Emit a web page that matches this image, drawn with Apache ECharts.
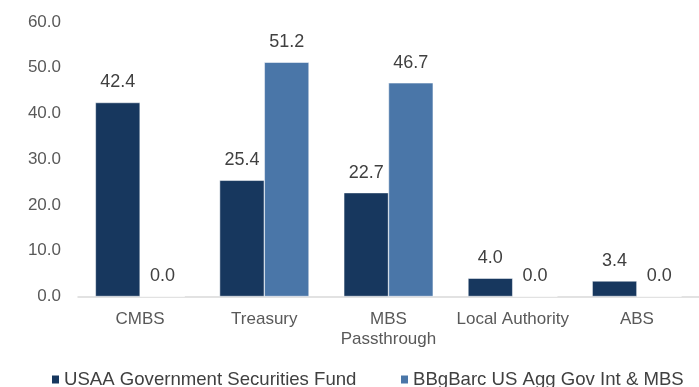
<!DOCTYPE html>
<html>
<head>
<meta charset="utf-8">
<script src="https://cdn.jsdelivr.net/npm/echarts@6/dist/echarts.min.js"></script>
<style>html,body{margin:0;padding:0;background:#fff;}#c{width:699px;height:387px;}</style>
</head>
<body>
<div id="c"></div>
<script>
const categories = ['CMBS', 'Treasury', 'MBS\nPassthrough', 'Local Authority', 'ABS'];
const fundName = 'USAA Government Securities Fund';
const benchName = 'BBgBarc US Agg Gov Int & MBS';
const fundValues = [42.4, 25.4, 22.7, 4.0, 3.4];
const benchValues = [0.0, 51.2, 46.7, 0.0, 0.0];
const yTicks = { min: 0, max: 60, interval: 10 };

const font = 'Liberation Sans, Arial, sans-serif';
const chart = echarts.init(document.getElementById('c'), null, { renderer: 'canvas' });
const labelCfg = {
  show: true, position: 'top', distance: 11,
  formatter: p => p.value.toFixed(1),
  fontFamily: font, fontSize: 18, color: '#404040'
};
const legendBase = {
  top: 370, padding: 0, itemWidth: 9, itemHeight: 10, icon: 'rect',
  textStyle: { fontFamily: font, fontSize: 18.6, color: '#404040', padding: [0, 0, 0, -1] }
};
chart.setOption({
  animation: false,
  textStyle: { fontFamily: font },
  grid: { left: 78, right: -7, top: 22, bottom: 90.5, containLabel: false },
  legend: [
    Object.assign({}, legendBase, { left: 50, data: [fundName] }),
    Object.assign({}, legendBase, { left: 399, data: [benchName] })
  ],
  xAxis: {
    type: 'category', data: categories,
    axisLine: { lineStyle: { color: '#d9d9d9', width: 1.5 } },
    axisTick: { show: false },
    axisLabel: { fontFamily: font, fontSize: 17, color: '#595959', margin: 13, lineHeight: 20, interval: 0 }
  },
  yAxis: {
    type: 'value', min: yTicks.min, max: yTicks.max, interval: yTicks.interval,
    splitLine: { show: false },
    axisLine: { show: false }, axisTick: { show: false },
    axisLabel: { fontFamily: font, fontSize: 17, color: '#595959', margin: 17, formatter: v => v.toFixed(1) }
  },
  series: [
    { name: fundName, type: 'bar', data: fundValues, barGap: '0%', barCategoryGap: '28%',
      itemStyle: { color: '#17375e', borderColor: '#ffffff', borderWidth: 0.5 }, label: labelCfg },
    { name: benchName, type: 'bar', data: benchValues, barGap: '0%', barCategoryGap: '28%',
      itemStyle: { color: '#4a76a8', borderColor: '#ffffff', borderWidth: 0.5 }, label: labelCfg }
  ]
});
</script>
</body>
</html>
